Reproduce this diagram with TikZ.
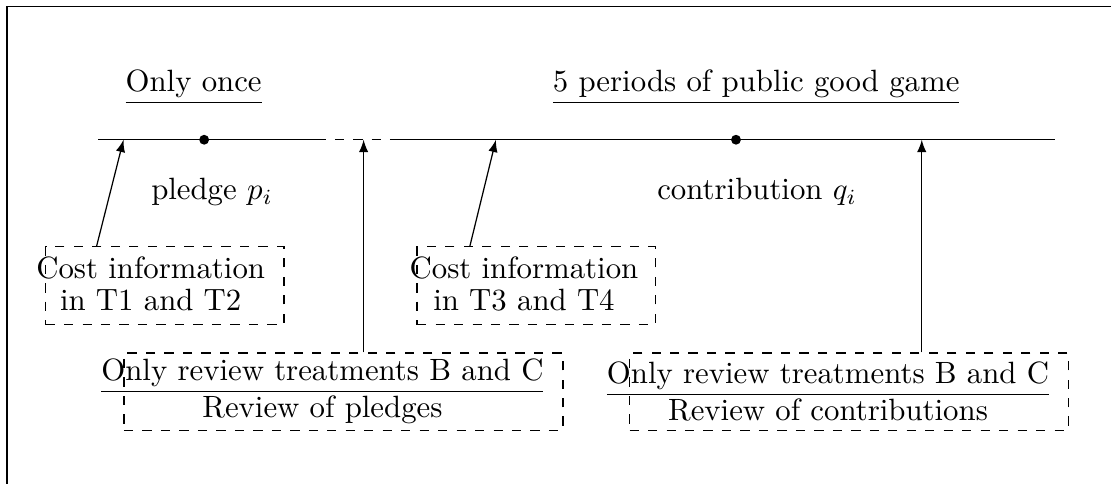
\documentclass[tikz,border=0pt]{standalone}
\begin{document}
\begin{tikzpicture}

      \useasboundingbox (0,0) rectangle (12.68,5.52);
      \draw (0.08,0) -- (0.08,5.45) -- (12.68,5.45);

      % time line
      \coordinate (tstart) at (1.12,3.925);
      \coordinate (gapl)   at (3.61,3.925);
      \coordinate (gapr)   at (4.45,3.925);
      \coordinate (tend)   at (12.04,3.925);
      \coordinate (in1)    at (1.41,3.925);
      \coordinate (in2)    at (4.15,3.925);
      \coordinate (in3)    at (5.66,3.925);
      \coordinate (in4)    at (10.52,3.925);

      \draw (tstart) -- (gapl);
      \draw[dashed] (gapl) -- (gapr);
      \draw (gapr) -- (tend);

      \begin{scope}[every node/.style={circle,fill,inner sep=0pt,minimum size=3.2pt}]
        \node (dot1) at (2.33,3.925) {};
        \node (dot2) at (8.40,3.925) {};
      \end{scope}

      \begin{scope}[every node/.style={anchor=base}]
        \node (once)    at (2.21,4.47) {\underline{Only once}};
        \node (periods) at (8.63,4.47) {\underline{5 periods of public good game}};
        \node (pledge)  at (2.42,3.24) {pledge $p_i$};
        \node (contrib) at (8.64,3.24) {contribution $q_i$};
      \end{scope}

      \begin{scope}[every node/.style={draw,dashed,inner sep=0pt}]
        \node[minimum width=2.72cm,minimum height=0.89cm] (cost1) at (1.88,2.26) {};
        \node[minimum width=2.72cm,minimum height=0.89cm] (cost2) at (6.12,2.26) {};
        \node[minimum width=5.01cm,minimum height=0.88cm] (rev1)  at (3.92,1.05) {};
        \node[minimum width=5.01cm,minimum height=0.88cm] (rev2)  at (9.69,1.05) {};
      \end{scope}

      \begin{scope}[every node/.style={align=center}]
        \node (costtxt1) at (1.72,2.28) {Cost information\\[-1.8pt]in T1 and T2};
        \node (costtxt2) at (5.98,2.28) {Cost information\\[-1.8pt]in T3 and T4};
        \node (revtxt1)  at (3.68,1.05) {\underline{Only review treatments B and C}\\Review of pledges};
        \node (revtxt2)  at (9.45,1.05) {\underline{Only review treatments B and C}\\Review of contributions};
      \end{scope}

      \draw[-latex] ([xshift=0.59cm]cost1.north west) -- (in1);
      \draw[-latex] ([xshift=0.61cm]cost2.north west) -- (in3);
      \draw[-latex] (rev1.north -| in2) -- (in2);
      \draw[-latex] (rev2.north -| in4) -- (in4);

    \end{tikzpicture}
\end{document}
